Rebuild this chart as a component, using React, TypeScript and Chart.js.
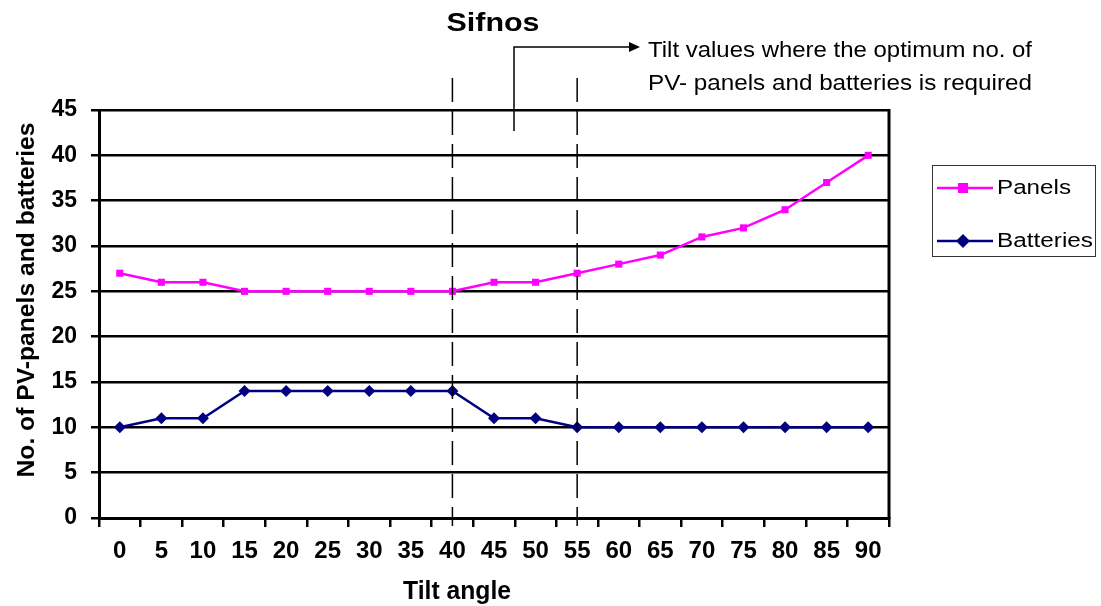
import React, { useEffect, useRef } from "react";
import { Chart, registerables } from "chart.js";
Chart.register(...registerables);

const tiltAngles = ["0", "5", "10", "15", "20", "25", "30", "35", "40", "45", "50", "55", "60", "65", "70", "75", "80", "85", "90"];
const panels = [27, 26, 26, 25, 25, 25, 25, 25, 25, 26, 26, 27, 28, 29, 31, 32, 34, 37, 40];
const batteries = [10, 11, 11, 14, 14, 14, 14, 14, 14, 11, 11, 10, 10, 10, 10, 10, 10, 10, 10];
const yMin = 0;
const yMax = 45;
const yStep = 5;
const optimumTilts = ["40", "55"];
const chartTitle = "Sifnos";
const noteLines = ["Tilt values where the optimum no. of", "PV- panels and batteries is required"];
const xTitle = "Tilt angle";
const yTitle = "No. of PV-panels and batteries";

const FONT = '"Liberation Sans", Arial, sans-serif';

function drawText(
  ctx: CanvasRenderingContext2D,
  text: string,
  x: number,
  y: number,
  font: string,
  align: CanvasTextAlign,
  targetWidth?: number,
  rotate = 0
) {
  ctx.save();
  ctx.font = font;
  ctx.fillStyle = "#000";
  ctx.textBaseline = "middle";
  ctx.textAlign = align;
  ctx.translate(x, y);
  if (rotate) ctx.rotate(rotate);
  if (targetWidth) {
    const w = ctx.measureText(text).width;
    ctx.scale(targetWidth / w, 1);
  }
  ctx.fillText(text, 0, 0);
  ctx.restore();
}

const annotations = {
  id: "annotations",
  afterDraw(chart: any) {
    const ctx: CanvasRenderingContext2D = chart.ctx;
    const { right, top, bottom } = chart.chartArea;
    const xs = chart.scales.x;

    // right border
    ctx.save();
    ctx.strokeStyle = "#000";
    ctx.lineWidth = 3;
    ctx.beginPath();
    ctx.moveTo(right, top - 1);
    ctx.lineTo(right, bottom + 1);
    ctx.stroke();
    ctx.restore();

    // dashed optimum lines
    ctx.save();
    ctx.strokeStyle = "#000";
    ctx.lineWidth = 1.5;
    ctx.setLineDash([24, 9]);
    optimumTilts.forEach((t) => {
      const px = xs.getPixelForValue(tiltAngles.indexOf(t));
      ctx.beginPath();
      ctx.moveTo(px, 78);
      ctx.lineTo(px, bottom + 8);
      ctx.stroke();
    });
    ctx.restore();

    // arrow
    ctx.save();
    ctx.strokeStyle = "#000";
    ctx.fillStyle = "#000";
    ctx.lineWidth = 1.5;
    ctx.beginPath();
    ctx.moveTo(514, 131);
    ctx.lineTo(514, 47);
    ctx.lineTo(630, 47);
    ctx.stroke();
    ctx.beginPath();
    ctx.moveTo(640, 47);
    ctx.lineTo(629, 42);
    ctx.lineTo(629, 52);
    ctx.closePath();
    ctx.fill();
    ctx.restore();

    drawText(ctx, noteLines[0], 648, 51, `22px ${FONT}`, "left", 384);
    drawText(ctx, noteLines[1], 648, 84, `22px ${FONT}`, "left", 384);

    // title
    drawText(ctx, chartTitle, 493, 24, `bold 26px ${FONT}`, "center", 93);

    // axis titles
    drawText(ctx, xTitle, 457, 592, `bold 25px ${FONT}`, "center", 108);
    drawText(ctx, yTitle, 27, 300, `bold 24px ${FONT}`, "center", 355, -Math.PI / 2);

    // legend
    ctx.save();
    ctx.strokeStyle = "#333";
    ctx.lineWidth = 1;
    ctx.strokeRect(932.5, 165.5, 163, 91);
    ctx.restore();
    const rows = [188, 241];
    chart.data.datasets.forEach((ds: any, i: number) => {
      const y = rows[i];
      ctx.save();
      ctx.strokeStyle = ds.borderColor;
      ctx.fillStyle = ds.backgroundColor;
      ctx.lineWidth = 2.5;
      ctx.beginPath();
      ctx.moveTo(937, y);
      ctx.lineTo(993, y);
      ctx.stroke();
      const cx = 963;
      if (ds.pointStyle === "rect") {
        ctx.fillRect(cx - 5, y - 5, 10, 10);
      } else {
        ctx.beginPath();
        ctx.moveTo(cx, y - 7);
        ctx.lineTo(cx + 7, y);
        ctx.lineTo(cx, y + 7);
        ctx.lineTo(cx - 7, y);
        ctx.closePath();
        ctx.fill();
      }
      ctx.restore();
      drawText(ctx, ds.label, 997, y, `20px ${FONT}`, "left", ds.label === "Panels" ? 74 : 96);
    });
  },
};

export default function App() {
  const ref = useRef<HTMLCanvasElement>(null);
  useEffect(() => {
    if (!ref.current) return;
    const chart = new Chart(ref.current, {
      type: "line",
      data: {
        labels: tiltAngles,
        datasets: [
          {
            label: "Panels",
            data: panels,
            borderColor: "#FF00FF",
            backgroundColor: "#FF00FF",
            borderWidth: 2.5,
            pointStyle: "rect",
            pointRadius: 5,
            pointBorderWidth: 0,
            tension: 0,
          },
          {
            label: "Batteries",
            data: batteries,
            borderColor: "#000080",
            backgroundColor: "#000080",
            borderWidth: 2.5,
            pointStyle: "rectRot",
            pointRadius: 6,
            pointBorderWidth: 0,
            tension: 0,
          },
        ],
      },
      options: {
        animation: false,
        responsive: true,
        maintainAspectRatio: false,
        layout: { padding: { left: 0, top: 110, right: 212, bottom: 0 } },
        plugins: {
          legend: { display: false },
          title: { display: false },
          tooltip: { enabled: false },
        },
        scales: {
          x: {
            type: "category",
            offset: true,
            afterFit: (s: any) => {
              s.height = 88;
            },
            grid: {
              offset: true,
              drawOnChartArea: false,
              drawTicks: true,
              tickLength: 9,
              lineWidth: 2.5,
              color: "#000",
            },
            border: { display: true, color: "#000", width: 3 },
            ticks: {
              color: "#000",
              font: { family: FONT, size: 24, weight: "bold" },
              padding: 10,
              maxRotation: 0,
              autoSkip: false,
            },
          },
          y: {
            min: yMin,
            max: yMax,
            afterFit: (s: any) => {
              s.width = 99;
            },
            grid: {
              drawOnChartArea: true,
              drawTicks: true,
              tickLength: 8,
              lineWidth: 2.5,
              color: "#000",
            },
            border: { display: true, color: "#000", width: 3 },
            ticks: {
              stepSize: yStep,
              color: "#000",
              font: { family: FONT, size: 23, weight: "bold" },
              padding: 14,
            },
          },
        },
      },
      plugins: [annotations],
    });
    return () => chart.destroy();
  }, []);
  return (
    <div style={{ position: "absolute", left: 0, top: 0, width: 1101, height: 606, background: "#fff" }}>
      <canvas ref={ref} />
    </div>
  );
}
